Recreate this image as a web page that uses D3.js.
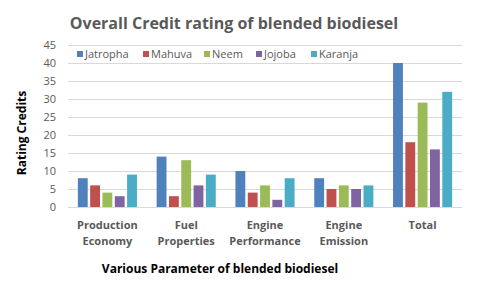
<!DOCTYPE html>
<html>
<head>
<meta charset="utf-8">
<script src="https://cdn.jsdelivr.net/npm/d3@7"></script>
<style>
  body { margin: 0; background: #fff; }
  svg { display: block; font-family: "Open Sans", "Liberation Sans", sans-serif; }
</style>
</head>
<body>
<div id="chart"></div>
<script>
// data
var categories = [["Production", "Economy"], ["Fuel", "Properties"], ["Engine", "Performance"], ["Engine", "Emission"], ["Total"]];
var seriesNames = ["Jatropha", "Mahuva", "Neem", "Jojoba", "Karanja"];
var jatropha = [8, 14, 10, 8, 40];
var mahuva = [6, 3, 4, 5, 18];
var neem = [4, 13, 6, 6, 29];
var jojoba = [3, 6, 2, 5, 16];
var karanja = [9, 9, 8, 6, 32];
var yTicks = [0, 5, 10, 15, 20, 25, 30, 35, 40, 45];
var colors = ["#4f81bd", "#c0504d", "#9bbb59", "#8064a2", "#4bacc6"];

var allSeries = [jatropha, mahuva, neem, jojoba, karanja];

var width = 480, height = 290;
var margin = { top: 45, right: 18, bottom: 83, left: 68 };
var w = width - margin.left - margin.right,
    h = height - margin.top - margin.bottom;

var svg = d3.select("#chart").append("svg")
    .attr("width", width)
    .attr("height", height);

var g = svg.append("g")
    .attr("transform", "translate(" + margin.left + "," + margin.top + ")");

var xScale = d3.scaleBand()
    .domain(d3.range(categories.length))
    .range([0, w])
    .paddingInner(0.25)
    .paddingOuter(0.125);

var xInner = d3.scaleBand()
    .domain(d3.range(seriesNames.length))
    .range([0, xScale.bandwidth()])
    .paddingInner(0.2);

var yScale = d3.scaleLinear()
    .domain([0, 45])
    .range([h, 0]);

// gridlines
g.selectAll(".grid")
    .data(yTicks)
    .enter().append("line")
    .attr("x1", 0)
    .attr("x2", w)
    .attr("y1", function (d) { return yScale(d) + 0.5; })
    .attr("y2", function (d) { return yScale(d) + 0.5; })
    .attr("stroke", "#d9d9d9")
    .attr("stroke-width", 1);

// y tick labels
g.selectAll(".ytick")
    .data(yTicks)
    .enter().append("text")
    .attr("x", -12)
    .attr("y", function (d) { return yScale(d); })
    .attr("dy", "0.35em")
    .attr("text-anchor", "end")
    .attr("font-size", 11)
    .attr("fill", "#595959")
    .text(function (d) { return d; });

// bars
var groups = g.selectAll(".cat")
    .data(categories)
    .enter().append("g")
    .attr("transform", function (d, i) { return "translate(" + xScale(i) + ",0)"; });

groups.selectAll("rect")
    .data(function (d, i) {
        return allSeries.map(function (s, j) { return { s: j, v: s[i] }; });
    })
    .enter().append("rect")
    .attr("x", function (d) { return xInner(d.s); })
    .attr("width", xInner.bandwidth())
    .attr("y", function (d) { return yScale(d.v); })
    .attr("height", function (d) { return h - yScale(d.v); })
    .attr("fill", function (d) { return colors[d.s]; });

// category labels
groups.append("text")
    .attr("x", xScale.bandwidth() / 2)
    .attr("y", h + 22)
    .attr("text-anchor", "middle")
    .attr("font-size", 11)
    .attr("font-weight", "bold")
    .attr("fill", "#595959")
    .selectAll("tspan")
    .data(function (d) { return d; })
    .enter().append("tspan")
    .attr("x", xScale.bandwidth() / 2)
    .attr("dy", function (d, i) { return i === 0 ? 0 : 16; })
    .text(function (d) { return d; });

// legend
var legendX = [77, 143, 204, 256, 311];
var legend = svg.selectAll(".legend")
    .data(seriesNames)
    .enter().append("g")
    .attr("transform", function (d, i) { return "translate(" + legendX[i] + ",50)"; });
legend.append("rect")
    .attr("width", 6).attr("height", 6)
    .attr("y", 1)
    .attr("fill", function (d, i) { return colors[i]; });
legend.append("text")
    .attr("x", 8)
    .attr("y", 4)
    .attr("dy", "0.35em")
    .attr("font-size", 11)
    .attr("fill", "#595959")
    .text(function (d) { return d; });

// title
svg.append("text")
    .attr("x", 234)
    .attr("y", 29)
    .attr("text-anchor", "middle")
    .attr("font-size", 16)
    .attr("font-weight", "bold")
    .attr("fill", "#595959")
    .text("Overall Credit rating of blended biodiesel");

// axis titles
svg.append("text")
    .attr("transform", "translate(26,133) rotate(-90)")
    .attr("text-anchor", "middle")
    .attr("font-size", 12)
    .attr("font-weight", "bold")
    .attr("fill", "#000")
    .text("Rating Credits");

svg.append("text")
    .attr("x", 220)
    .attr("y", 273)
    .attr("text-anchor", "middle")
    .attr("font-size", 12)
    .attr("font-weight", "bold")
    .attr("fill", "#000")
    .text("Various Parameter of blended biodiesel");
</script>
</body>
</html>
